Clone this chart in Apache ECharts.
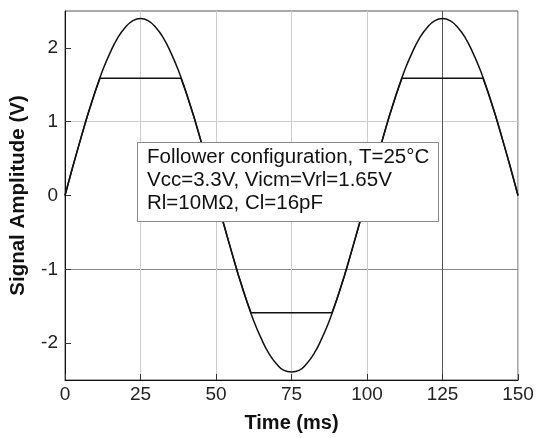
<!DOCTYPE html>
<html>
<head>
<meta charset="utf-8">
<script src="https://cdn.jsdelivr.net/npm/echarts@6/dist/echarts.min.js"></script>
<style>html,body{margin:0;padding:0;background:#fff}#c{width:537px;height:438px}</style>
</head>
<body>
<div id="c"></div>
<script>
// Input signal, time in ms
var inTime = [0,2.5,5,7.5,10,12.5,15,17.5,20,22.5,25,27.5,30,32.5,35,37.5,40,42.5,45,47.5,
  50,52.5,55,57.5,60,62.5,65,67.5,70,72.5,75,77.5,80,82.5,85,87.5,90,92.5,95,97.5,
  100,102.5,105,107.5,110,112.5,115,117.5,120,122.5,125,127.5,130,132.5,135,137.5,140,142.5,145,147.5,150];
var inValue = [0,0.38,0.74,1.09,1.41,1.70,1.94,2.14,2.28,2.37,2.40,2.37,2.28,2.14,1.94,1.70,1.41,1.09,0.74,0.38,
  0,-0.38,-0.74,-1.09,-1.41,-1.70,-1.94,-2.14,-2.28,-2.37,-2.39,-2.37,-2.28,-2.14,-1.94,-1.70,-1.41,-1.09,-0.74,-0.38,
  0,0.38,0.74,1.09,1.41,1.70,1.94,2.14,2.28,2.37,2.40,2.37,2.28,2.14,1.94,1.70,1.41,1.09,0.74,0.38,0];
// Output (clipped) signal
var outTime = [0,2.5,5,7.5,10,11.6,38.4,40,42.5,45,47.5,50,52.5,55,57.5,60,61.6,88.4,90,92.5,95,97.5,
  100,102.5,105,107.5,110,111.6,138.4,140,142.5,145,147.5,150];
var outValue = [0,0.38,0.74,1.09,1.41,1.59,1.59,1.41,1.09,0.74,0.38,0,-0.38,-0.74,-1.09,-1.41,-1.59,-1.59,-1.41,-1.09,-0.74,-0.38,
  0,0.38,0.74,1.09,1.41,1.59,1.59,1.41,1.09,0.74,0.38,0];
// Axis ticks
var xTicks = [0,25,50,75,100,125,150];
var yTicks = [-2,-1,0,1,2];
var annotation = ['Follower configuration, T=25°C','Vcc=3.3V, Vicm=Vrl=1.65V','Rl=10MΩ, Cl=16pF'];

function pairs(t, v){ return t.map(function(x,i){ return [x, v[i]]; }); }

var FONT = '"Liberation Sans", Arial, sans-serif';
var chart = echarts.init(document.getElementById('c'), null, {renderer:'canvas'});
chart.setOption({
  animation:false,
  backgroundColor:'#fff',
  grid:{left:65, right:19, top:11, bottom:57, show:true, borderColor:'#555', borderWidth:1, backgroundColor:'transparent'},
  xAxis:{
    type:'value', min:0, max:150, interval:25,
    name:'Time (ms)', nameLocation:'middle', nameGap:33,
    nameTextStyle:{fontFamily:FONT, fontSize:20, fontWeight:'bold', color:'#111'},
    axisLine:{show:true, onZero:false, lineStyle:{color:'#111', width:1}},
    axisTick:{show:true, inside:true, length:6, lineStyle:{color:'#333'}},
    axisLabel:{fontFamily:FONT, fontSize:19, color:'#222', margin:5, customValues:xTicks},
    splitLine:{show:true, lineStyle:{color:['#ccc','#ccc','#ccc','#ccc','#ccc','#555','#ccc'], width:1}}
  },
  yAxis:{
    type:'value', min:-2.5, max:2.5, interval:0.5,
    name:'Signal Amplitude (V)', nameLocation:'middle', nameGap:36,
    nameTextStyle:{fontFamily:FONT, fontSize:20.5, fontWeight:'bold', color:'#111'},
    axisLine:{show:true, onZero:false, lineStyle:{color:'#111', width:1}},
    axisTick:{show:true, inside:true, length:6, lineStyle:{color:'#333'}, customValues:yTicks},
    axisLabel:{fontFamily:FONT, fontSize:19, color:'#222', margin:7, customValues:yTicks,
      formatter:function(v){ return Math.abs(v - Math.round(v))<1e-9 ? String(v) : ''; }},
    splitLine:{show:true, lineStyle:{color:['rgba(0,0,0,0)','#888','rgba(0,0,0,0)','#ccc','rgba(0,0,0,0)','#999','rgba(0,0,0,0)','#ccc','rgba(0,0,0,0)','#ccc','rgba(0,0,0,0)'], width:1}}
  },
  series:[
    {type:'line', name:'Input', data:pairs(inTime,inValue), smooth:true, showSymbol:false,
      lineStyle:{color:'#111', width:1.5}, z:3},
    {type:'line', name:'Output', data:pairs(outTime,outValue), smooth:false, showSymbol:false,
      lineStyle:{color:'#111', width:1.5}, z:3}
  ],
  graphic:[
    {type:'rect', z:100, zlevel:0, left:137, top:142, shape:{width:301,height:79}, style:{fill:'#ffffff', stroke:'#888', lineWidth:1}},
    {type:'text', z:101, zlevel:0, left:147, top:146, style:{text:annotation.join('\n'), font:'20.5px '+FONT, fill:'#111', lineHeight:23}}
  ]
});
</script>
</body>
</html>
